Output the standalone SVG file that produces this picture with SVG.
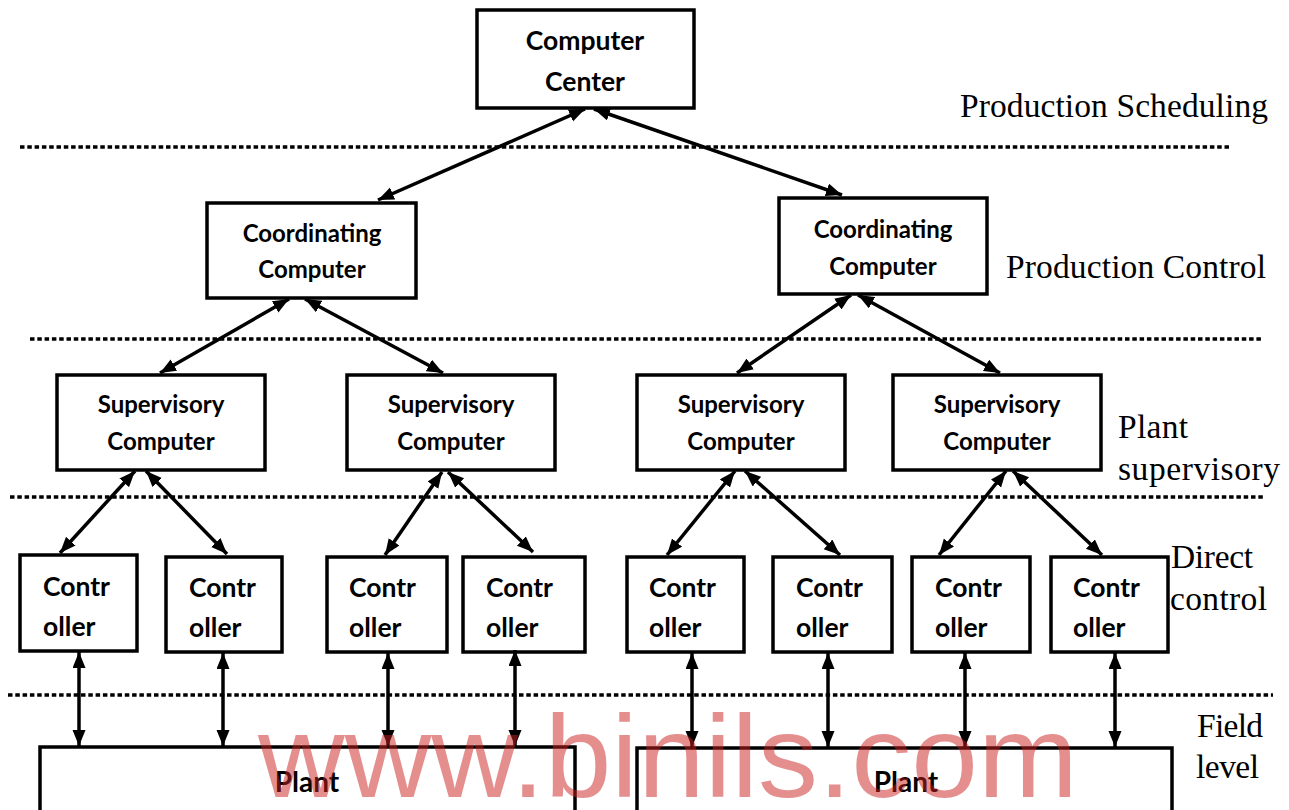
<svg xmlns="http://www.w3.org/2000/svg" width="1289" height="810" viewBox="0 0 1289 810">
<style>
.box{fill:#fff;stroke:#000;stroke-width:3.5}
.bt{font-family:Lato,"Noto Sans","Liberation Sans",sans-serif;font-weight:bold;fill:#000;text-anchor:middle}
.ct{font-family:Lato,"Noto Sans","Liberation Sans",sans-serif;font-weight:bold;fill:#000;font-size:26.5px}
.lb{font-family:"Liberation Serif","DejaVu Serif",serif;font-size:33.5px;fill:#000}
.dot{stroke:#000;stroke-width:3.5;stroke-dasharray:4.5 2.8;fill:none}
.cn{stroke:#000;stroke-width:3.5;fill:none;marker-start:url(#ah);marker-end:url(#ah)}
.wm{font-family:"Liberation Sans",Arial,sans-serif;font-size:117px;fill:#cc2020;opacity:0.5}
</style>
<defs>
<marker id="ah" markerUnits="userSpaceOnUse" markerWidth="17" markerHeight="14" refX="16" refY="6.5" orient="auto-start-reverse" viewBox="0 0 17 14">
<path d="M0,0 L16,6.5 L0,13 z" fill="#000"/>
</marker>
</defs>
<rect width="1289" height="810" fill="#fff"/>

<g id="separators">
<line class="dot" x1="20" y1="147" x2="1230" y2="147"/>
<line class="dot" x1="30" y1="339" x2="1262" y2="339"/>
<line class="dot" x1="10" y1="497" x2="1263" y2="497"/>
<line class="dot" x1="8" y1="695" x2="1273" y2="695"/>
</g>

<g id="level-labels">
<text class="lb" x="960" y="117" textLength="308">Production Scheduling</text>
<text class="lb" x="1006" y="278" textLength="260">Production Control</text>
<text class="lb" x="1118" y="438" textLength="70">Plant</text>
<text class="lb" x="1118" y="480" textLength="162">supervisory</text>
<text class="lb" x="1171" y="568" textLength="82">Direct</text>
<text class="lb" x="1170" y="610" textLength="97">control</text>
<text class="lb" x="1197" y="737" textLength="66">Field</text>
<text class="lb" x="1196" y="778" textLength="63">level</text>
</g>

<g id="computer-center">
<rect class="box" x="477" y="10" width="217" height="98"/>
<text class="bt" x="585" y="50" font-size="26.5">Computer</text>
<text class="bt" x="585" y="91" font-size="26.5">Center</text>
</g>

<g id="coord-left">
<rect class="box" x="207" y="203" width="209" height="95"/>
<text class="bt" x="312" y="242" font-size="24">Coordinating</text>
<text class="bt" x="312" y="278" font-size="24">Computer</text>
</g>
<g id="coord-right">
<rect class="box" x="779" y="198" width="208" height="96"/>
<text class="bt" x="883" y="238" font-size="24">Coordinating</text>
<text class="bt" x="883" y="275" font-size="24">Computer</text>
</g>

<g id="sup1">
<rect class="box" x="57" y="375" width="208" height="95"/>
<text class="bt" x="161" y="413" font-size="24">Supervisory</text>
<text class="bt" x="161" y="450" font-size="24">Computer</text>
</g>
<g id="sup2">
<rect class="box" x="347" y="375" width="208" height="95"/>
<text class="bt" x="451" y="413" font-size="24">Supervisory</text>
<text class="bt" x="451" y="450" font-size="24">Computer</text>
</g>
<g id="sup3">
<rect class="box" x="637" y="375" width="208" height="95"/>
<text class="bt" x="741" y="413" font-size="24">Supervisory</text>
<text class="bt" x="741" y="450" font-size="24">Computer</text>
</g>
<g id="sup4">
<rect class="box" x="893" y="375" width="208" height="95"/>
<text class="bt" x="997" y="413" font-size="24">Supervisory</text>
<text class="bt" x="997" y="450" font-size="24">Computer</text>
</g>

<g id="ctrl1"><rect class="box" x="20" y="555" width="117" height="96"/><text class="ct" x="43" y="596">Contr</text><text class="ct" x="43" y="636">oller</text></g>
<g id="ctrl2"><rect class="box" x="166" y="557" width="116" height="95"/><text class="ct" x="189" y="597">Contr</text><text class="ct" x="189" y="637">oller</text></g>
<g id="ctrl3"><rect class="box" x="327" y="557" width="120" height="95"/><text class="ct" x="349" y="597">Contr</text><text class="ct" x="349" y="637">oller</text></g>
<g id="ctrl4"><rect class="box" x="463" y="557" width="122" height="95"/><text class="ct" x="486" y="597">Contr</text><text class="ct" x="486" y="637">oller</text></g>
<g id="ctrl5"><rect class="box" x="627" y="557" width="117" height="95"/><text class="ct" x="649" y="597">Contr</text><text class="ct" x="649" y="637">oller</text></g>
<g id="ctrl6"><rect class="box" x="773" y="557" width="119" height="95"/><text class="ct" x="796" y="597">Contr</text><text class="ct" x="796" y="637">oller</text></g>
<g id="ctrl7"><rect class="box" x="912" y="557" width="118" height="95"/><text class="ct" x="935" y="597">Contr</text><text class="ct" x="935" y="637">oller</text></g>
<g id="ctrl8"><rect class="box" x="1051" y="557" width="117" height="95"/><text class="ct" x="1073" y="597">Contr</text><text class="ct" x="1073" y="637">oller</text></g>

<g id="plant-left">
<rect class="box" x="40" y="747" width="535" height="80"/>
<text class="bt" x="307" y="792" font-size="28">Plant</text>
</g>
<g id="plant-right">
<rect class="box" x="637" y="748" width="535" height="80"/>
<text class="bt" x="906" y="792" font-size="28">Plant</text>
</g>

<g id="connectors">
<line class="cn" x1="585" y1="109" x2="378" y2="200"/>
<line class="cn" x1="594" y1="109" x2="842" y2="195"/>
<line class="cn" x1="289" y1="299" x2="160" y2="373"/>
<line class="cn" x1="305" y1="299" x2="443" y2="373"/>
<line class="cn" x1="851" y1="295" x2="737" y2="373"/>
<line class="cn" x1="858" y1="295" x2="1000" y2="373"/>
<line class="cn" x1="135" y1="471" x2="60" y2="553"/>
<line class="cn" x1="146" y1="471" x2="227" y2="554"/>
<line class="cn" x1="442" y1="472" x2="385" y2="555"/>
<line class="cn" x1="448" y1="472" x2="533" y2="552"/>
<line class="cn" x1="735" y1="471" x2="667" y2="555"/>
<line class="cn" x1="745" y1="471" x2="840" y2="555"/>
<line class="cn" x1="1006" y1="471" x2="939" y2="555"/>
<line class="cn" x1="1013" y1="471" x2="1102" y2="555"/>
<line class="cn" x1="79" y1="652" x2="79" y2="746"/>
<line class="cn" x1="223" y1="653" x2="223" y2="746"/>
<line class="cn" x1="388" y1="653" x2="388" y2="746"/>
<line class="cn" x1="515" y1="650" x2="515" y2="746"/>
<line class="cn" x1="692" y1="653" x2="692" y2="747"/>
<line class="cn" x1="828" y1="653" x2="828" y2="747"/>
<line class="cn" x1="965" y1="653" x2="965" y2="747"/>
<line class="cn" x1="1115" y1="653" x2="1115" y2="747"/>
</g>

<text class="wm" x="258" y="797" textLength="820" lengthAdjust="spacingAndGlyphs">www.binils.com</text>
</svg>
